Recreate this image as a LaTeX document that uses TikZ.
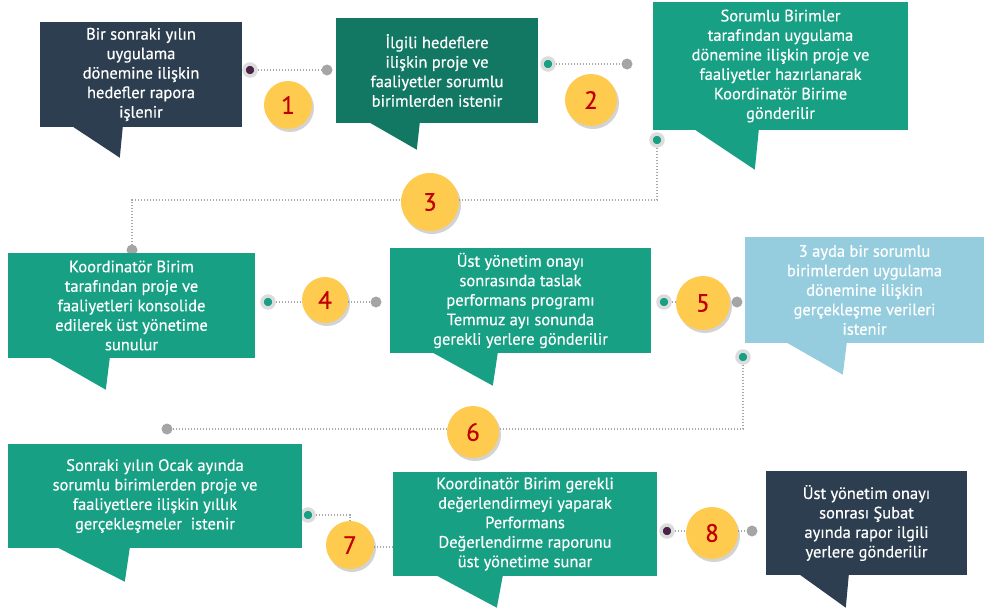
\documentclass[tikz,border=0pt]{standalone}
\usepackage{fontspec}
\setmainfont{PT Sans}
\newfontfamily\boxfont{PT Sans}[BoldFont={PT Sans},BoldFeatures={FakeBold=0.5}]
\usetikzlibrary{shadows}
\definecolor{boxnavy}{HTML}{2D3E50}
\definecolor{boxdark}{HTML}{137863}
\definecolor{boxgreen}{HTML}{18A085}
\definecolor{boxblue}{HTML}{95CDDF}
\definecolor{numyellow}{HTML}{FFCB4E}
\definecolor{numred}{HTML}{C00000}
\definecolor{ringgray}{HTML}{DCDCDC}
\definecolor{dotgray}{HTML}{A5A5A5}
\definecolor{dotpurple}{HTML}{4A2447}
\definecolor{linegray}{HTML}{A8A8A8}

\begin{document}
\begin{tikzpicture}[x=1pt,y=-1pt,
  every node/.style={font=\boxfont\bfseries\fontsize{16.5}{19.5}\selectfont},
  stepbox/.style={fill=#1,text=white,align=center,inner sep=0pt},
  ringdot/.style={circle,fill=#1,draw=ringgray,line width=3.5pt,minimum size=12pt,inner sep=0pt},
  enddot/.style={circle,fill=dotgray,minimum size=11pt,inner sep=0pt},
  link/.style={draw=linegray,line width=1.4pt,dash pattern=on 1.4pt off 1.6pt},
  stepnum/.style={circle,fill=numyellow,text=numred,font=\boxfont\bfseries\fontsize{25}{25}\selectfont,
    minimum size=#1,inner sep=0pt,drop shadow={opacity=.35,shadow xshift=2pt,shadow yshift=-3pt}}]
  \useasboundingbox (0,0) rectangle (984,608);

  \node[ringdot=dotpurple] (d1a) at (250,70) {};
  \node[enddot] (d1b) at (327,70) {};
  \node[ringdot=boxgreen] (d2a) at (548,64) {};
  \node[enddot] (d2b) at (627,64) {};
  \node[ringdot=boxgreen] (d3a) at (657,140) {};
  \node[enddot] (d3b) at (132,250) {};
  \node[ringdot=boxgreen] (d4a) at (268,302) {};
  \node[enddot] (d4b) at (376,302) {};
  \node[ringdot=boxgreen] (d5a) at (664,302) {};
  \node[enddot] (d5b) at (737,302) {};
  \node[ringdot=boxgreen] (d6a) at (743,357) {};
  \node[enddot] (d6b) at (167,429) {};
  \node[ringdot=boxgreen] (d7a) at (308,515) {};
  \node[ringdot=dotpurple] (d8a) at (667,531) {};
  \node[enddot] (d8b) at (752,531) {};
  \coordinate (k3) at (657,200);
  \coordinate (k7) at (350,547);
  \coordinate (e7) at (392,547);

  \draw[link] (d1a) -- (d1b);
  \draw[link] (d2a) -- (d2b);
  \draw[link] (d3a) -- (k3) -| (d3b);
  \draw[link] (d4a) -- (d4b);
  \draw[link] (d5a) -- (d5b);
  \draw[link] (d6a) |- (d6b);
  \draw[link] (d7a) -| (k7) -- (e7);
  \draw[link] (d8a) -- (d8b);

  \node[stepbox=boxnavy,minimum width=202pt,minimum height=105pt] (b1) at (141,74.5)
    {Bir sonraki yılın\\uygulama\\dönemine ilişkin\\hedefler rapora\\işlenir};
  \node[stepbox=boxdark,minimum width=202pt,minimum height=105pt] (b2) at (437,70.5)
    {İlgili hedeflere\\ilişkin proje ve\\faaliyetler sorumlu\\birimlerden istenir};
  \node[stepbox=boxgreen,minimum width=255pt,minimum height=128pt] (b3) at (780.5,66)
    {Sorumlu Birimler\\tarafından uygulama\\dönemine ilişkin proje ve\\faaliyetler hazırlanarak\\Koordinatör Birime\\gönderilir};
  \node[stepbox=boxgreen,minimum width=247pt,minimum height=105pt] (b4) at (131.5,305.5)
    {Koordinatör Birim\\tarafından proje ve\\faaliyetleri konsolide\\edilerek üst yönetime\\sunulur};
  \node[stepbox=boxgreen,minimum width=261pt,minimum height=105pt] (b5) at (520.5,300.5)
    {Üst yönetim onayı\\sonrasında taslak\\performans programı\\Temmuz ayı sonunda\\gerekli yerlere gönderilir};
  \node[stepbox=boxblue,minimum width=239pt,minimum height=106pt] (b6) at (864.5,290)
    {3 ayda bir sorumlu\\birimlerden uygulama\\dönemine ilişkin\\gerçekleşme verileri\\istenir};
  \node[stepbox=boxgreen,minimum width=294pt,minimum height=104pt] (b7) at (155,496)
    {Sonraki yılın Ocak ayında\\sorumlu birimlerden proje ve\\faaliyetlere ilişkin yıllık\\gerçekleşmeler~~istenir};
  \node[stepbox=boxgreen,minimum width=264pt,minimum height=104pt] (b8) at (525,524)
    {Koordinatör Birim gerekli\\değerlendirmeyi yaparak\\Performans\\Değerlendirme raporunu\\üst yönetime sunar};
  \node[stepbox=boxnavy,minimum width=201pt,minimum height=104pt] (b9) at (866.5,523)
    {Üst yönetim onayı\\sonrası Şubat\\ayında rapor ilgili\\yerlere gönderilir};

  \foreach \b/\c/\o/\w/\d/\h in {b1/boxnavy/33/50/-3/31,b2/boxdark/34/50/-3/27,
      b3/boxgreen/42/64/-4/40,b4/boxgreen/42/60/-4/32,b5/boxgreen/43/65/-5/33,
      b6/boxblue/42/60/-4/32,b7/boxgreen/50/72/-5/34,b8/boxgreen/44/66/-6/32,
      b9/boxnavy/34/49/-3/33}{
    \fill[\c] (\b.south west) ++(\o,-0.5) -- ++(\w,0) -- ++(\d,\h) -- cycle;
  }

  \node[stepnum=48pt] (n1) at (288,105) {1};
  \node[stepnum=52pt] (n2) at (591,100) {2};
  \node[stepnum=58pt] (n3) at (430,202) {3};
  \node[stepnum=46pt] (n4) at (325,300) {4};
  \node[stepnum=54pt] (n5) at (703,303) {5};
  \node[stepnum=52pt] (n6) at (473,432) {6};
  \node[stepnum=48pt] (n7) at (350,545) {7};
  \node[stepnum=52pt] (n8) at (712,533) {8};
\end{tikzpicture}
\end{document}
